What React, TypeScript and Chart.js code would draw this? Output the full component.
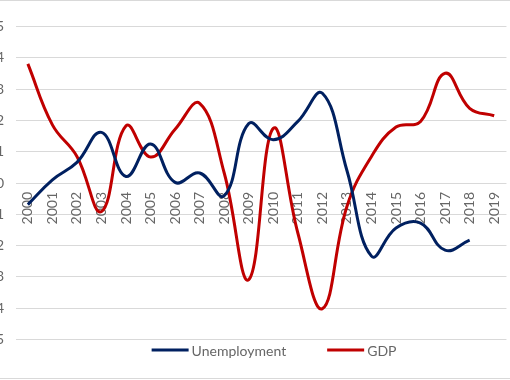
import React, { useEffect, useRef } from "react";
import { Chart, registerables } from "chart.js";

Chart.register(...registerables);

const years = [
  "2000", "2001", "2002", "2003", "2004", "2005", "2006", "2007", "2008", "2009",
  "2010", "2011", "2012", "2013", "2014", "2015", "2016", "2017", "2018", "2019",
];

const unemployment: (number | null)[] = [
  -0.69, 0.1, 0.66, 1.62, 0.21, 1.25, 0.02, 0.32, -0.41, 1.9,
  1.38, 1.97, 2.87, 0.4, -2.34, -1.44, -1.28, -2.15, -1.83, null,
];

const gdp: number[] = [
  3.81, 1.86, 0.85, -0.91, 1.83, 0.83, 1.72, 2.55, 0.32, -3.09,
  1.75, -1.6, -4.02, -0.75, 0.85, 1.79, 1.97, 3.51, 2.39, 2.15,
];

const yMin = -5;
const yMax = 5;
const yStep = 1;

const seriesNames = ["Unemployment", "GDP"];
const seriesColors = ["#002060", "#C00000"];

const FONT = "Lato, 'Open Sans', sans-serif";
const TEXT_COLOR = "#666666";

const legendPlugin = {
  id: "excelLegend",
  afterDraw(chart: any) {
    const ctx = chart.ctx;
    const area = chart.chartArea;
    ctx.save();
    ctx.font = `14px ${FONT}`;
    const lineW = 37;
    const gapText = 3;
    const gapItem = 41;
    const items = chart.data.datasets.map((ds: any) => ({
      label: ds.label,
      color: ds.borderColor,
      w: ctx.measureText(ds.label).width,
    }));
    const total =
      items.reduce((s: number, it: any) => s + lineW + gapText + it.w, 0) +
      gapItem * (items.length - 1);
    let x = (area.left + area.right) / 2 + 13 - total / 2;
    const y = area.bottom + 10.7;
    ctx.textBaseline = "middle";
    ctx.textAlign = "left";
    items.forEach((it: any) => {
      ctx.strokeStyle = it.color;
      ctx.lineWidth = 3;
      ctx.lineCap = "butt";
      ctx.beginPath();
      ctx.moveTo(x, y);
      ctx.lineTo(x + lineW, y);
      ctx.stroke();
      ctx.fillStyle = TEXT_COLOR;
      ctx.fillText(it.label, x + lineW + gapText, y + 1);
      x += lineW + gapText + it.w + gapItem;
    });
    ctx.restore();
  },
};

export default function App() {
  const canvasRef = useRef<HTMLCanvasElement | null>(null);

  useEffect(() => {
    if (!canvasRef.current) return;
    const chart = new Chart(canvasRef.current, {
      type: "line",
      data: {
        labels: years,
        datasets: [
          {
            label: seriesNames[0],
            data: unemployment,
            borderColor: seriesColors[0],
            backgroundColor: seriesColors[0],
            borderWidth: 3,
            pointRadius: 0,
            tension: 0.42,
            fill: false,
          },
          {
            label: seriesNames[1],
            data: gdp,
            borderColor: seriesColors[1],
            backgroundColor: seriesColors[1],
            borderWidth: 3,
            pointRadius: 0,
            tension: 0.42,
            fill: false,
          },
        ],
      },
      options: {
        responsive: false,
        animation: false,
        layout: { padding: { top: 26.7, bottom: 40.7, left: 0, right: 0.6 } },
        plugins: {
          legend: { display: false },
          tooltip: { enabled: false },
        },
        scales: {
          x: {
            type: "category",
            position: { y: 0 } as any,
            offset: true,
            grid: { display: false },
            border: { display: false },
            ticks: {
              autoSkip: false,
              minRotation: 90,
              maxRotation: 90,
              padding: 1,
              color: TEXT_COLOR,
              font: { family: FONT, size: 14 },
            },
          },
          y: {
            min: yMin,
            max: yMax,
            afterFit: (scale: any) => {
              scale.width = 29.6;
            },
            grid: { color: "#D9D9D9", lineWidth: 1, drawTicks: false },
            border: { display: false },
            ticks: {
              stepSize: yStep,
              padding: 11.5,
              color: TEXT_COLOR,
              font: { family: FONT, size: 14 },
            },
          },
        },
      },
      plugins: [legendPlugin],
    });
    return () => chart.destroy();
  }, []);

  return (
    <div
      style={{
        position: "fixed",
        left: 0,
        top: 0,
        width: 510,
        height: 380,
        overflow: "hidden",
        background: "#ffffff",
      }}
    >
      <div style={{ position: "absolute", left: -14, top: 0, width: 526, height: 380 }}>
        <canvas ref={canvasRef} width={526} height={380} style={{ display: "block" }} />
      </div>
      <div style={{ position: "absolute", left: 0, top: 0, width: 510, height: 1, background: "#D9D9D9" }} />
      <div style={{ position: "absolute", left: 0, top: 378, width: 510, height: 1, background: "#D9D9D9" }} />
    </div>
  );
}
